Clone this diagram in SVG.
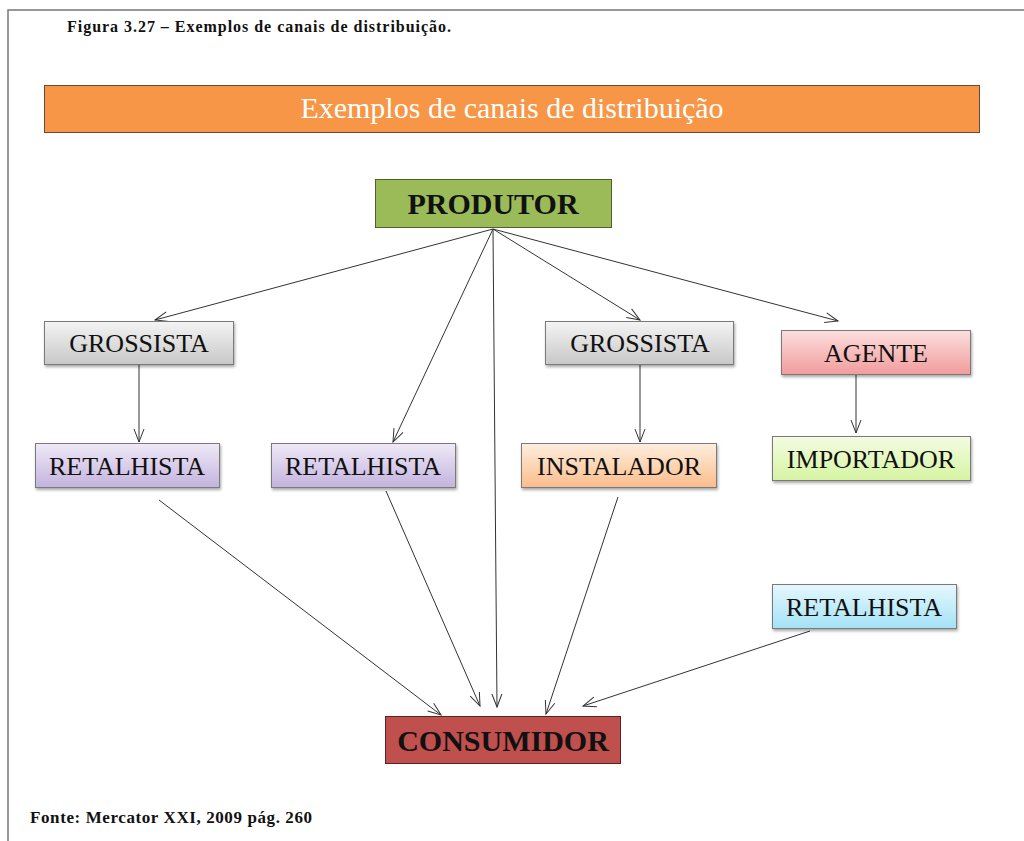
<svg xmlns="http://www.w3.org/2000/svg" width="1024" height="841" viewBox="0 0 1024 841">
<style>
.t{font-family:"Liberation Serif","Times New Roman",serif;fill:#111;text-anchor:middle}
.n{font-size:26px}
.b{font-weight:bold;font-size:30px}
.cap{font-family:"Liberation Serif","Times New Roman",serif;font-weight:bold;fill:#111}
.box{stroke:#7a7a7a;stroke-width:1}
.c{stroke:#333;stroke-width:1;fill:none;marker-end:url(#ah)}
</style>
<defs>
<marker id="ah" markerWidth="16" markerHeight="12" refX="14" refY="6" orient="auto" markerUnits="userSpaceOnUse">
<path d="M1,1 L14,6 L1,11" fill="none" stroke="#333" stroke-width="1"/>
</marker>
<filter id="sh" x="-10%" y="-10%" width="130%" height="140%">
<feDropShadow dx="1" dy="2" stdDeviation="1.5" flood-color="#000" flood-opacity="0.35"/>
</filter>
<linearGradient id="gGray" x1="0" y1="0" x2="0" y2="1"><stop offset="0" stop-color="#f4f4f4"/><stop offset="1" stop-color="#c8c8c8"/></linearGradient>
<linearGradient id="gLav" x1="0" y1="0" x2="0" y2="1"><stop offset="0" stop-color="#efe9f7"/><stop offset="1" stop-color="#c3b3de"/></linearGradient>
<linearGradient id="gPeach" x1="0" y1="0" x2="0" y2="1"><stop offset="0" stop-color="#fdeede"/><stop offset="1" stop-color="#fbbd8c"/></linearGradient>
<linearGradient id="gPink" x1="0" y1="0" x2="0" y2="1"><stop offset="0" stop-color="#fcdede"/><stop offset="1" stop-color="#f19c9c"/></linearGradient>
<linearGradient id="gGreen" x1="0" y1="0" x2="0" y2="1"><stop offset="0" stop-color="#f4fce2"/><stop offset="1" stop-color="#d5f4a2"/></linearGradient>
<linearGradient id="gBlue" x1="0" y1="0" x2="0" y2="1"><stop offset="0" stop-color="#e6f7fd"/><stop offset="1" stop-color="#a3e2f7"/></linearGradient>
</defs>
<rect width="1024" height="841" fill="#fff"/>
<path d="M8,841 L8,10 L1024,10" fill="none" stroke="#777" stroke-width="1.5"/>
<text x="67" y="32" class="cap" font-size="16" textLength="384" lengthAdjust="spacing">Figura 3.27 – Exemplos de canais de distribuição.</text>
<g id="banner">
<rect x="44.5" y="85.5" width="935" height="47" fill="#f79646" stroke="#6b4a2e" stroke-width="1"/>
<text x="512" y="118" class="t" style="fill:#fff;font-size:30px">Exemplos de canais de distribuição</text>
</g>
<g id="connectors">
<line class="c" x1="493" y1="229" x2="155" y2="320"/>
<line class="c" x1="493" y1="229" x2="393" y2="442"/>
<line class="c" x1="493" y1="229" x2="497" y2="707"/>
<line class="c" x1="493" y1="229" x2="640" y2="320"/>
<line class="c" x1="493" y1="229" x2="838" y2="321"/>
<line class="c" x1="139" y1="365" x2="139" y2="442"/>
<line class="c" x1="640" y1="365" x2="640" y2="442"/>
<line class="c" x1="856" y1="375" x2="856" y2="433"/>
<line class="c" x1="159" y1="500" x2="441" y2="715"/>
<line class="c" x1="386" y1="491" x2="480" y2="706"/>
<line class="c" x1="618" y1="497" x2="546" y2="714"/>
<line class="c" x1="810" y1="631" x2="583" y2="706"/>
</g>
<g id="produtor">
<rect x="375.5" y="179.5" width="236" height="48" fill="#9bbb59" stroke="#4f6228"/>
<text x="493" y="214" class="t b">PRODUTOR</text>
</g>
<g id="grossista1">
<rect class="box" x="44.5" y="321.5" width="189" height="43" fill="url(#gGray)" filter="url(#sh)"/>
<text x="139" y="352" class="t n">GROSSISTA</text>
</g>
<g id="grossista2">
<rect class="box" x="545.5" y="321.5" width="188" height="43" fill="url(#gGray)" filter="url(#sh)"/>
<text x="640" y="352" class="t n">GROSSISTA</text>
</g>
<g id="agente">
<rect class="box" x="781.5" y="330.5" width="189" height="44" fill="url(#gPink)" filter="url(#sh)"/>
<text x="876" y="362" class="t n">AGENTE</text>
</g>
<g id="retalhista1">
<rect class="box" x="35.5" y="443.5" width="184" height="44" fill="url(#gLav)" filter="url(#sh)"/>
<text x="127" y="475" class="t n">RETALHISTA</text>
</g>
<g id="retalhista2">
<rect class="box" x="271.5" y="443.5" width="184" height="44" fill="url(#gLav)" filter="url(#sh)"/>
<text x="363" y="475" class="t n">RETALHISTA</text>
</g>
<g id="instalador">
<rect class="box" x="521.5" y="443.5" width="195" height="44" fill="url(#gPeach)" filter="url(#sh)"/>
<text x="619" y="475" class="t n">INSTALADOR</text>
</g>
<g id="importador">
<rect class="box" x="772.5" y="436.5" width="198" height="44" fill="url(#gGreen)" filter="url(#sh)"/>
<text x="871" y="468" class="t n">IMPORTADOR</text>
</g>
<g id="retalhista3">
<rect class="box" x="772.5" y="584.5" width="184" height="44" fill="url(#gBlue)" filter="url(#sh)"/>
<text x="864" y="616" class="t n">RETALHISTA</text>
</g>
<g id="consumidor">
<rect x="385.5" y="716.5" width="235" height="47" fill="#c0504d" stroke="#5a2322"/>
<text x="503" y="751" class="t b">CONSUMIDOR</text>
</g>
<text x="30" y="823" class="cap" font-size="17" textLength="282" lengthAdjust="spacing">Fonte: Mercator XXI, 2009 pág. 260</text>
</svg>
